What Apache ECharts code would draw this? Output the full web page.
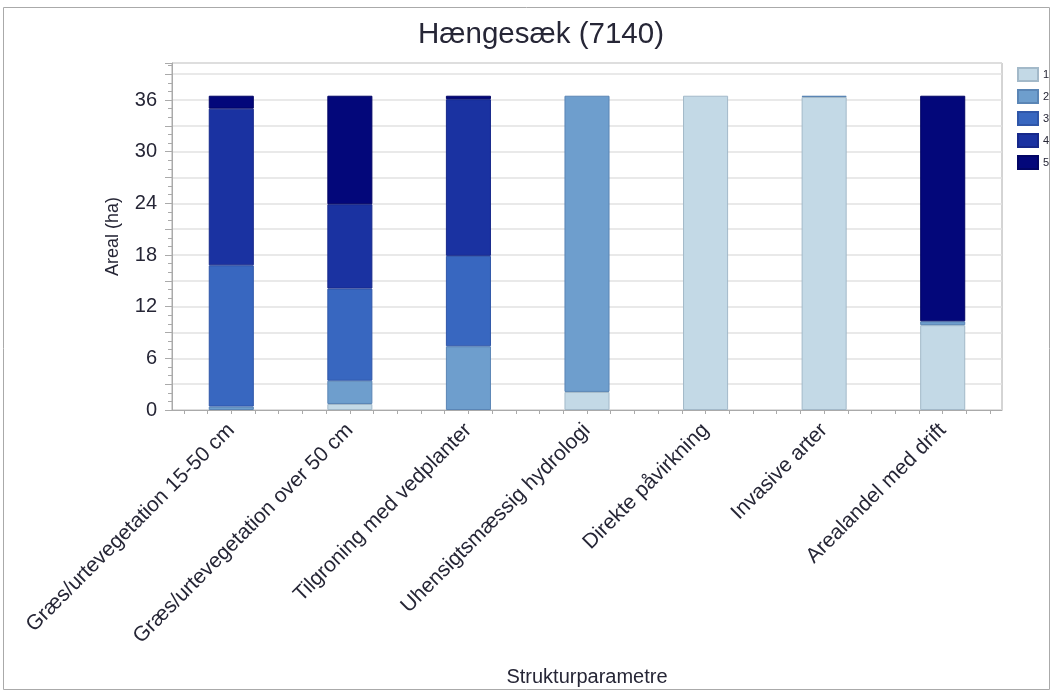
<!DOCTYPE html>
<html><head><meta charset="utf-8">
<script src="https://cdn.jsdelivr.net/npm/echarts@6/dist/echarts.min.js"></script>
<style>html,body{margin:0;padding:0;background:#fff}#c{width:1053px;height:692px}</style>
</head><body><div id="c"></div>
<script>
const categories = ['Græs/urtevegetation 15-50 cm','Græs/urtevegetation over 50 cm','Tilgroning med vedplanter','Uhensigtsmæssig hydrologi','Direkte påvirkning','Invasive arter','Arealandel med drift'];
const seriesNames = ['1','2','3','4','5'];
const s1 = [0, 0.7, 0, 2.1, 36.5, 36.35, 9.85];
const s2 = [0.4, 2.7, 7.4, 34.4, 0, 0.15, 0.45];
const s3 = [16.4, 10.7, 10.5, 0, 0, 0, 0];
const s4 = [18.2, 9.8, 18.2, 0, 0, 0, 0];
const s5 = [1.5, 12.6, 0.4, 0, 0, 0, 26.2];
const yTicks = [0, 6, 12, 18, 24, 30, 36];
const colors = ['#c3d9e6', '#6e9ecd', '#3867c0', '#1a32a1', '#03077a'];
const borders = ['#a3b9c9', '#5a85b5', '#2f56a8', '#16288a', '#020565'];
const values = [s1, s2, s3, s4, s5];
const FONT = 'Liberation Sans, Arial';
const TXT = '#262636';

const chart = echarts.init(document.getElementById('c'));
const minorPos = [];
for (let k = 0; k < categories.length * 5; k++) minorPos.push(k * 2 + 1);

chart.setOption({
  animation: false,
  color: colors,
  title: { text: 'Hængesæk (7140)', left: 536, top: 15, textAlign: 'center',
    textStyle: { fontFamily: FONT, fontSize: 29.5, fontWeight: 'normal', color: TXT } },
  legend: { orient: 'vertical', left: 1017, top: 67, padding: 0, itemWidth: 20, itemHeight: 13, itemGap: 7,
    textStyle: { fontFamily: FONT, fontSize: 11, color: TXT, lineHeight: 13, padding: [0,0,0,0] },
    icon: 'rect', data: seriesNames },
  graphic: [{ type: 'rect', shape: { x: 3.5, y: 7.5, width: 1046, height: 682 }, style: { fill: 'none', stroke: '#aaa', lineWidth: 1 } }],
  grid: { left: 172, right: 51, top: 63, bottom: 281, show: true, borderColor: '#aaa', borderWidth: 1 },
  xAxis: [{
    type: 'category', data: categories, name: 'Strukturparametre', nameLocation: 'middle', nameGap: 257,
    nameTextStyle: { fontFamily: FONT, fontSize: 20, color: TXT },
    axisLine: { lineStyle: { color: '#aaa' } },
    axisTick: { alignWithLabel: true, length: 9, lineStyle: { color: '#aaa' } },
    axisLabel: { rotate: 45, interval: 0, margin: 17, fontFamily: FONT, fontSize: 21, color: TXT },
    splitLine: { show: false }
  }, {
    type: 'value', position: 'bottom', min: 0, max: categories.length * 10,
    axisLine: { show: false }, axisLabel: { show: false }, splitLine: { show: false },
    axisTick: { show: true, length: 4, customValues: minorPos, lineStyle: { color: '#aaa' } }
  }],
  yAxis: {
    type: 'value', min: 0, max: 40.3, interval: 3, name: 'Areal (ha)', nameLocation: 'middle', nameGap: 50,
    nameTextStyle: { fontFamily: FONT, fontSize: 18, color: TXT },
    axisLine: { show: true, lineStyle: { color: '#aaa' } },
    axisTick: { show: true, length: 7, lineStyle: { color: '#aaa' } },
    minorTick: { show: true, splitNumber: 3, length: 4, lineStyle: { color: '#aaa' } },
    axisLabel: { fontFamily: FONT, fontSize: 20, color: TXT, margin: 15, showMaxLabel: false,
      formatter: v => yTicks.includes(v) ? String(v) : '' },
    splitLine: { lineStyle: { color: '#e2e2e2', width: 1.5 } }
  },
  series: values.map((d, i) => ({
    name: seriesNames[i], type: 'bar', stack: 'total', data: d.map(v => v === 0 ? null : v), barWidth: '38%', xAxisIndex: 0,
    itemStyle: { color: colors[i], borderColor: borders[i], borderWidth: 1 }
  }))
});
</script></body></html>
